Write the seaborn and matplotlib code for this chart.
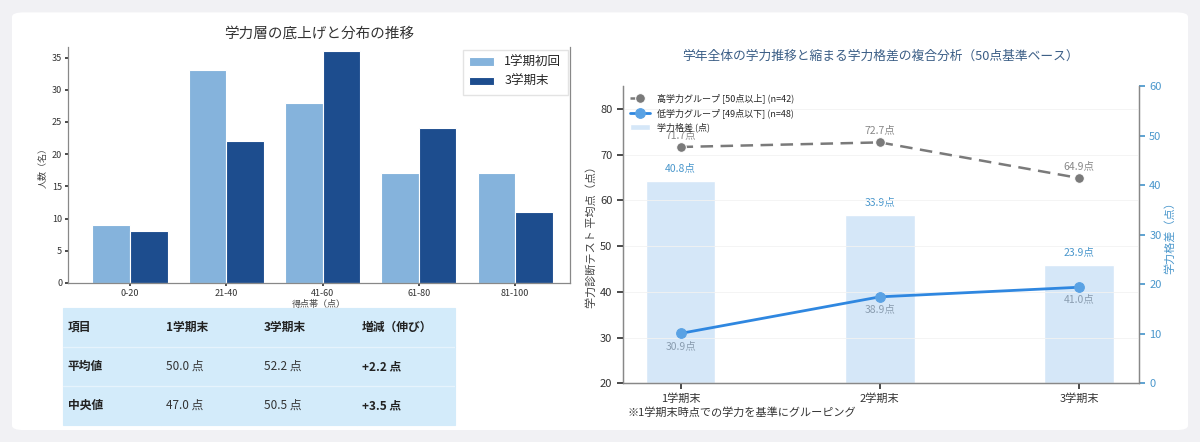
import numpy as np
import pandas as pd
import matplotlib.pyplot as plt
import seaborn as sns
from matplotlib.patches import FancyBboxPatch

# ---- data ----
bands = ['0-20', '21-40', '41-60', '61-80', '81-100']
first_term = [9, 33, 28, 17, 17]
third_term = [8, 22, 36, 24, 11]

table_header = ['項目', '1学期末', '3学期末', '増減（伸び）']
table_rows = [['平均値', '50.0 点', '52.2 点', '+2.2 点'],
              ['中央値', '47.0 点', '50.5 点', '+3.5 点']]

terms = ['1学期末', '2学期末', '3学期末']
high_group = [71.7, 72.7, 64.9]
low_group = [30.9, 38.9, 41.0]
gap = [40.8, 33.9, 23.9]

sns.set_theme(style='white')
plt.rcParams['font.family'] = ['Noto Sans CJK JP', 'DejaVu Sans']

fig = plt.figure(figsize=(12, 4.42), dpi=100)
fig.patch.set_facecolor('#f1f1f4')
card = FancyBboxPatch((0.01, 0.027), 0.98, 0.945, boxstyle='round,pad=0,rounding_size=0.01',
                      transform=fig.transFigure, facecolor='white', edgecolor='none', zorder=-10)
fig.patches.append(card)

# ---- left: distribution ----
ax1 = fig.add_axes([0.057, 0.36, 0.418, 0.533])
dist = pd.DataFrame({'band': bands * 2,
                     'count': first_term + third_term,
                     'term': ['1学期初回'] * 5 + ['3学期末'] * 5})
sns.barplot(data=dist, x='band', y='count', hue='term', palette=['#85b3dc', '#1d4d8e'],
            saturation=1, edgecolor='white', linewidth=0.8, width=0.78, ax=ax1)
ax1.set_ylim(0, 36.6)
ax1.set_xlim(-0.64, 4.57)
ax1.set_title('学力層の底上げと分布の推移', fontsize=10.5, color='#333333', pad=7)
ax1.set_xlabel('得点帯（点）', fontsize=6.5, color='#444444', labelpad=1)
ax1.set_ylabel('人数（名）', fontsize=6.5, color='#444444', labelpad=3)
ax1.tick_params(labelsize=6.5, colors='#333333', length=2.5, pad=2)
ax1.tick_params(axis='both', which='major', direction='out', left=True, bottom=True)
for s in ['left', 'bottom', 'right']:
    ax1.spines[s].set_color('#888888')
    ax1.spines[s].set_linewidth(0.9)
ax1.spines['top'].set_visible(False)
ax1.legend(title=None, fontsize=9, loc='upper right', frameon=True, fancybox=False,
           edgecolor='#dddddd', handlelength=2.0, borderpad=0.5, borderaxespad=0.2)

# ---- left: summary table ----
axt = fig.add_axes([0.0525, 0.038, 0.327, 0.265])
axt.axis('off')
cells = [table_header] + table_rows
tbl = axt.table(cellText=cells, cellLoc='left', bbox=[0, 0, 1, 1])
tbl.auto_set_font_size(False)
for (r, c), cell in tbl.get_celld().items():
    cell.set_facecolor('#d3ebfa')
    cell.set_edgecolor('#d3ebfa')
    cell.set_linewidth(0.8)
    cell.PAD = 0.05
    bold = r == 0 or c == 0 or c == 3
    cell.get_text().set_fontsize(8.5)
    cell.get_text().set_color('#222222' if bold else '#333333')
    cell.get_text().set_fontweight('bold' if bold else 'normal')
for yy in (1 / 3, 2 / 3):
    axt.axhline(yy, color='#e6f3fc', linewidth=0.9, zorder=5)

# ---- right: combined analysis ----
ax = fig.add_axes([0.519, 0.133, 0.43, 0.672])
ax2 = ax.twinx()
x = np.arange(len(terms))
gap_df = pd.DataFrame({'term': terms, 'gap': gap})
sns.barplot(data=gap_df, x='term', y='gap', color='#d5e7f8', saturation=1, width=0.35,
            ax=ax2, label='学力格差 (点)', zorder=1)
ax2.set_ylim(0, 60)
ax2.set_ylabel('学力格差（点）', fontsize=8, color='#4a97cc', labelpad=2)
ax2.tick_params(axis='y', labelsize=8, colors='#4a97cc', length=4, right=True)
for xi, v in zip(x, gap):
    ax2.text(xi, v + 1.6, f'{v}点', ha='center', va='bottom', fontsize=7.5, color='#4a97cc')

sns.lineplot(x=x, y=high_group, ax=ax, color='#7a7a7a', linestyle=(0, (5, 3)), linewidth=1.8,
             marker='o', markersize=7, label='高学力グループ [50点以上] (n=42)')
sns.lineplot(x=x, y=low_group, ax=ax, color='#2f87e0', linewidth=2,
             marker='o', markersize=7, markerfacecolor='#5aa2e4', markeredgecolor='#5aa2e4',
             label='低学力グループ [49点以下] (n=48)')
for xi, v in zip(x, high_group):
    ax.text(xi, v + 1.6, f'{v}点', ha='center', va='bottom', fontsize=7.5, color='#888888')
for xi, v in zip(x, low_group):
    ax.text(xi, v - 1.6, f'{v}点', ha='center', va='top', fontsize=7.5, color='#8a9db0')

ax.set_zorder(ax2.get_zorder() + 1)
ax.patch.set_visible(False)
ax.set_ylim(20, 85)
ax.set_xlim(-0.29, 2.3)
ax.set_xticks(x)
ax.set_xticklabels(terms)
ax.set_yticks([20, 30, 40, 50, 60, 70, 80])
ax.tick_params(labelsize=8, colors='#333333', length=4, left=True, bottom=True)
ax.set_ylabel('学力診断テスト 平均点（点）', fontsize=8, color='#444444', labelpad=2)
ax.grid(axis='y', color='#f2f2f2', linewidth=0.6)
ax.set_title('学年全体の学力推移と縮まる学力格差の複合分析（50点基準ベース）',
             fontsize=9.2, color='#3b5e86', pad=19)
for a in (ax, ax2):
    for s in ['left', 'bottom', 'right']:
        a.spines[s].set_color('#888888')
        a.spines[s].set_linewidth(0.9)
    a.spines['top'].set_visible(False)

h1, l1 = ax.get_legend_handles_labels()
h2, l2 = ax2.get_legend_handles_labels()
ax.legend(h1 + h2, l1 + l2, loc='upper left', fontsize=6.5, frameon=False,
          handlelength=2.2, borderaxespad=0.4, labelspacing=0.5)
if ax2.get_legend():
    ax2.get_legend().remove()

fig.text(0.523, 0.058, '※1学期末時点での学力を基準にグルーピング', fontsize=8, color='#333333')

fig.savefig('out.png', dpi=100, facecolor=fig.get_facecolor())
